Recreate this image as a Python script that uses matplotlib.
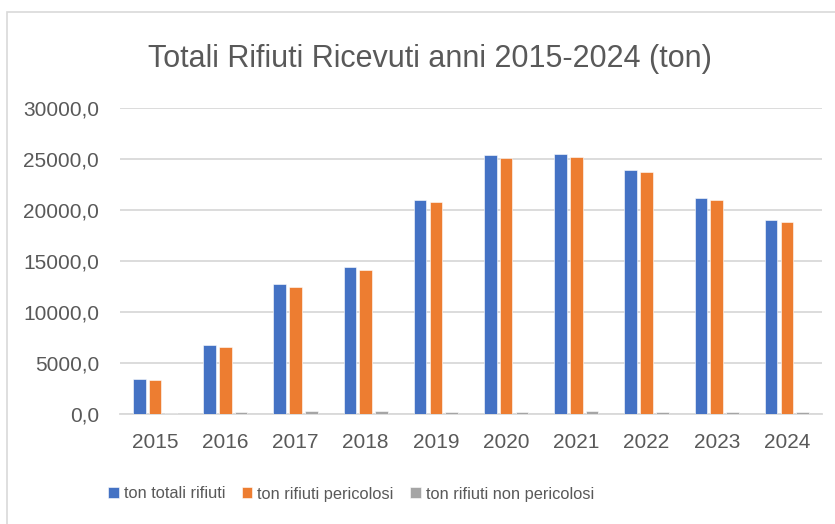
import matplotlib
matplotlib.use("Agg")
import matplotlib.pyplot as plt
import numpy as np
from matplotlib.patches import Rectangle

years = ["2015", "2016", "2017", "2018", "2019", "2020", "2021", "2022", "2023", "2024"]
totali = [3390, 6770, 12760, 14410, 21010, 25400, 25490, 23990, 21210, 18990]
pericolosi = [3290, 6550, 12460, 14120, 20820, 25160, 25220, 23760, 20980, 18820]
non_pericolosi = [80, 230, 260, 300, 220, 230, 260, 230, 240, 180]
series_names = ["ton totali rifiuti", "ton rifiuti pericolosi", "ton rifiuti non pericolosi"]
colors = ["#4472C4", "#ED7D31", "#A5A5A5"]
yticks = [0, 5000, 10000, 15000, 20000, 25000, 30000]

FONT = ["Liberation Sans Narrow", "Liberation Sans", "DejaVu Sans"]
plt.rcParams["font.family"] = FONT
TXT = "#595959"

W, H = 835, 524
fig = plt.figure(figsize=(W / 100, H / 100), dpi=100)

# chart border
fig.add_artist(Rectangle((7 / W, -0.1), 1.2, 1 - 12 / H + 0.1, transform=fig.transFigure,
                         fill=False, edgecolor="#D9D9D9", linewidth=1.2))

ax = fig.add_axes([120 / W, (H - 414) / H, 702 / W, (414 - 108.3) / H])
x = np.arange(len(years))
bw = 0.178
step = 0.225
for i, (vals, c, name) in enumerate(zip([totali, pericolosi, non_pericolosi], colors, series_names)):
    ax.bar(x + (i - 1) * step, vals, width=bw, color=c, label=name, zorder=3,
           edgecolor="white", linewidth=0.4)

ax.set_xlim(-0.5, len(years) - 0.5)
ax.set_ylim(0, 30000)
ax.set_yticks(yticks)
ax.set_yticklabels([f"{v},0" for v in yticks])
ax.set_xticks(x)
ax.set_xticklabels(years)
ax.grid(axis="y", color="#D9D9D9", linewidth=1.3, zorder=0)
for s in ["top", "right", "left"]:
    ax.spines[s].set_visible(False)
ax.spines["bottom"].set_color("#D9D9D9")
ax.spines["bottom"].set_linewidth(1.3)
ax.tick_params(axis="both", length=0, labelsize=15, colors=TXT)
ax.tick_params(axis="x", pad=14)
ax.tick_params(axis="y", pad=15)

fig.text(430 / W, 1 - 59 / H, "Totali Rifiuti Ricevuti anni 2015-2024 (ton)",
         ha="center", va="center", fontsize=22, color=TXT)

handles, labels = ax.get_legend_handles_labels()
leg = fig.legend(handles, labels, loc="center", bbox_to_anchor=(351 / W, 1 - 494 / H), ncol=3,
                 frameon=False, fontsize=11.8, handlelength=0.65, handleheight=0.65,
                 handletextpad=0.3, columnspacing=1.0, labelcolor=TXT)

fig.savefig("out.png", dpi=100)
